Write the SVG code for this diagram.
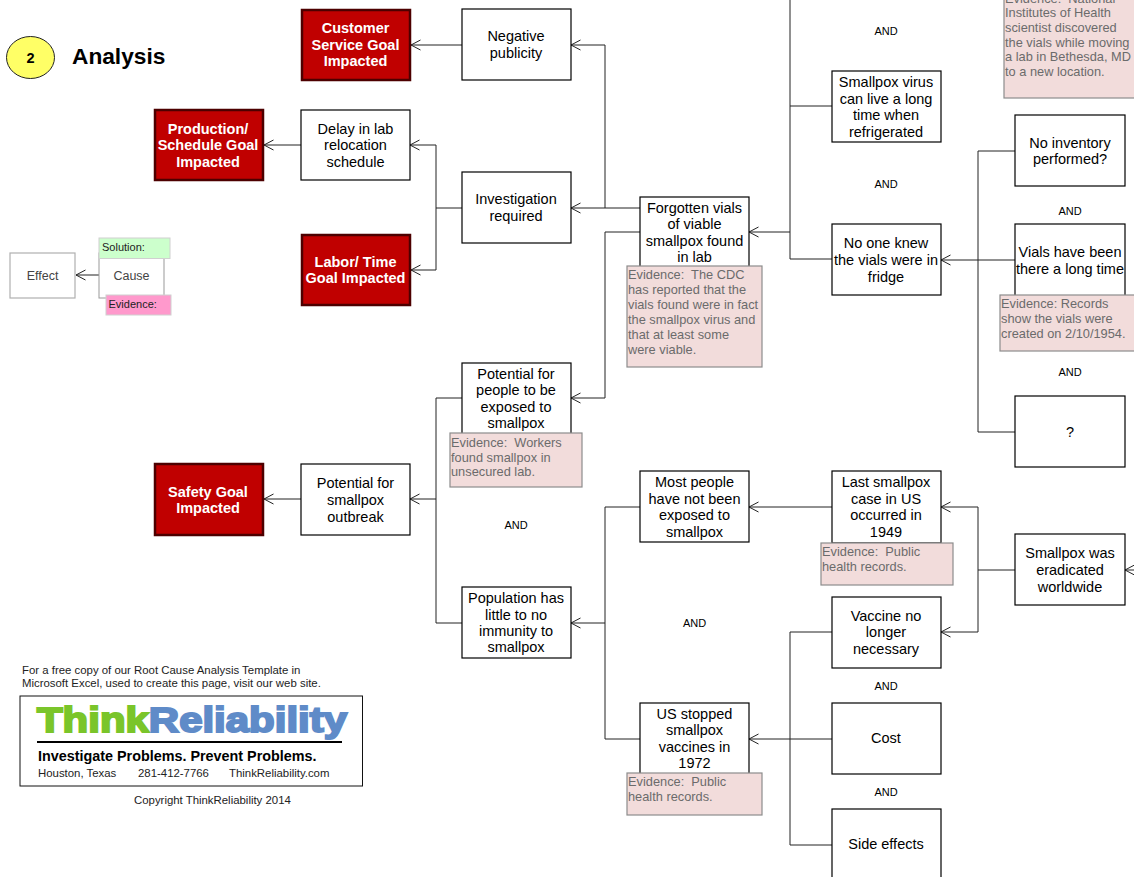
<svg xmlns="http://www.w3.org/2000/svg" width="1134" height="877" viewBox="0 0 1134 877">
<style>
text{font-family:"Liberation Sans",Arial,sans-serif;text-anchor:middle;fill:#000;white-space:pre}
.b{fill:#fff;stroke:#000;stroke-width:1.2}
.t{font-size:14.5px}
.r{fill:#c00000;stroke:#4d0000;stroke-width:2.5}
.rt{font-size:14.5px;font-weight:bold;fill:#fff}
.e{fill:#f2dcdb;stroke:#8c8c8c;stroke-width:1.2}
.et{font-size:12.8px;fill:#6b6b6b;text-anchor:start}
.and{font-size:11px}
.c{fill:none;stroke:#222;stroke-width:1}
.s{font-size:11.4px;fill:#222;text-anchor:start}
.k{font-size:11px;fill:#222;text-anchor:start}
.l{fill:none;stroke:#b0b0b0;stroke-width:1.2}
</style>
<defs>
<marker id="a" markerUnits="userSpaceOnUse" markerWidth="12" markerHeight="12" refX="11" refY="6" orient="auto" viewBox="0 0 12 12"><path d="M1.500 1 L11 6 L1.500 11" fill="none" stroke="#222" stroke-width="1"/></marker>
</defs>
<rect width="1134" height="877" fill="#fff"/>

<g id="connectors">
<path class="c" marker-end="url(#a)" d="M462 45H411"/>
<path class="c" marker-end="url(#a)" d="M301 145H264"/>
<path class="c" marker-end="url(#a)" d="M462 208H436V145H410"/>
<path class="c" marker-end="url(#a)" d="M436 208V270H411"/>
<path class="c" marker-end="url(#a)" d="M640 208H571"/>
<path class="c" marker-end="url(#a)" d="M605 208V45H571"/>
<path class="c" marker-end="url(#a)" d="M640 232H605V398H571"/>
<path class="c" marker-end="url(#a)" d="M790 232H749"/>
<path class="c" d="M790 0V259M790 106H832M790 259H832"/>
<path class="c" marker-end="url(#a)" d="M1015 260H941"/>
<path class="c" d="M1015 151H978V432H1015"/>
<path class="c" marker-end="url(#a)" d="M301 499H264"/>
<path class="c" marker-end="url(#a)" d="M462 398H436V499H410"/>
<path class="c" d="M462 623H436V499"/>
<path class="c" d="M640 507H605V739H640"/>
<path class="c" marker-end="url(#a)" d="M605 623H571"/>
<path class="c" marker-end="url(#a)" d="M832 507H749"/>
<path class="c" marker-end="url(#a)" d="M1015 570H978V507H941"/>
<path class="c" marker-end="url(#a)" d="M978 570V632H941"/>
<path class="c" marker-end="url(#a)" d="M832 739H749"/>
<path class="c" d="M832 632H790V845H832"/>
<path class="c" marker-end="url(#a)" d="M1140 570H1125"/>
<path class="c" marker-end="url(#a)" d="M100 275H76"/>
</g>

<g id="badge"><ellipse cx="30.500" cy="57.500" rx="24" ry="21" fill="#ffff66" stroke="#222" stroke-width="1"/><text x="30.500" y="63" style="font-size:14.500px;font-weight:bold">2</text></g>
<text id="title" x="72" y="64" style="font-size:22.700px;font-weight:bold;text-anchor:start">Analysis</text>

<g id="customer"><rect class="r" x="302" y="10" width="108" height="70"/><text class="rt" x="355.500" y="33">Customer</text><text class="rt" x="355.500" y="50">Service Goal</text><text class="rt" x="355.500" y="66">Impacted</text></g>
<g id="production"><rect class="r" x="155" y="110" width="108" height="70"/><text class="rt" x="208" y="134">Production/</text><text class="rt" x="208" y="150">Schedule Goal</text><text class="rt" x="208" y="167">Impacted</text></g>
<g id="labor"><rect class="r" x="302" y="235" width="108" height="70"/><text class="rt" x="355.500" y="267">Labor/ Time</text><text class="rt" x="355.500" y="283">Goal Impacted</text></g>
<g id="safety"><rect class="r" x="155" y="464" width="108" height="71"/><text class="rt" x="208" y="497">Safety Goal</text><text class="rt" x="208" y="513">Impacted</text></g>

<g id="negative"><rect class="b" x="462" y="9" width="109" height="71"/><text class="t" x="516" y="41">Negative</text><text class="t" x="516" y="58">publicity</text></g>
<g id="delay"><rect class="b" x="301" y="110" width="109" height="70"/><text class="t" x="355.500" y="134">Delay in lab</text><text class="t" x="355.500" y="150">relocation</text><text class="t" x="355.500" y="167">schedule</text></g>
<g id="investigation"><rect class="b" x="462" y="172" width="109" height="71"/><text class="t" x="516" y="204">Investigation</text><text class="t" x="516" y="221">required</text></g>

<g id="forgotten"><rect class="b" x="640" y="197" width="109" height="72"/><text class="t" x="694.500" y="213">Forgotten vials</text><text class="t" x="694.500" y="229">of viable</text><text class="t" x="694.500" y="246">smallpox found</text><text class="t" x="694.500" y="262">in lab</text></g>
<g id="forgotten-evidence"><rect class="e" x="627" y="266" width="135" height="101"/><text class="et" x="628" y="279">Evidence:  The CDC</text><text class="et" x="628" y="294">has reported that the</text><text class="et" x="628" y="309">vials found were in fact</text><text class="et" x="628" y="324">the smallpox virus and</text><text class="et" x="628" y="339">that at least some</text><text class="et" x="628" y="354">were viable.</text></g>

<g id="virus"><rect class="b" x="832" y="71" width="109" height="71"/><text class="t" x="886" y="87">Smallpox virus</text><text class="t" x="886" y="104">can live a long</text><text class="t" x="886" y="120">time when</text><text class="t" x="886" y="137">refrigerated</text></g>
<g id="noone"><rect class="b" x="832" y="224" width="109" height="71"/><text class="t" x="886" y="248">No one knew</text><text class="t" x="886" y="265">the vials were in</text><text class="t" x="886" y="282">fridge</text></g>
<g id="inventory"><rect class="b" x="1015" y="115" width="110" height="71"/><text class="t" x="1070" y="148">No inventory</text><text class="t" x="1070" y="164">performed?</text></g>
<g id="vials"><rect class="b" x="1015" y="224" width="110" height="72"/><text class="t" x="1070" y="257">Vials have been</text><text class="t" x="1070" y="274">there a long time</text></g>
<g id="vials-evidence"><rect class="e" x="1000" y="295" width="136" height="56"/><text class="et" x="1001" y="308">Evidence: Records</text><text class="et" x="1001" y="323">show the vials were</text><text class="et" x="1001" y="338">created on 2/10/1954.</text></g>
<g id="question"><rect class="b" x="1015" y="396" width="110" height="71"/><text class="t" x="1070" y="437">?</text></g>
<g id="top-evidence"><rect class="e" x="1004" y="-10" width="132" height="108"/><text class="et" x="1005" y="3">Evidence:  National</text><text class="et" x="1005" y="17">Institutes of Health</text><text class="et" x="1005" y="32">scientist discovered</text><text class="et" x="1005" y="47">the vials while moving</text><text class="et" x="1005" y="61">a lab in Bethesda, MD</text><text class="et" x="1005" y="76">to a new location.</text></g>

<g id="people"><rect class="b" x="462" y="363" width="109" height="71"/><text class="t" x="516" y="379">Potential for</text><text class="t" x="516" y="395">people to be</text><text class="t" x="516" y="412">exposed to</text><text class="t" x="516" y="428">smallpox</text></g>
<g id="people-evidence"><rect class="e" x="450" y="433" width="132" height="54"/><text class="et" x="451" y="447">Evidence:  Workers</text><text class="et" x="451" y="462">found smallpox in</text><text class="et" x="451" y="476">unsecured lab.</text></g>
<g id="outbreak"><rect class="b" x="301" y="464" width="109" height="71"/><text class="t" x="355.500" y="488">Potential for</text><text class="t" x="355.500" y="505">smallpox</text><text class="t" x="355.500" y="522">outbreak</text></g>
<g id="most"><rect class="b" x="640" y="471" width="109" height="71"/><text class="t" x="694.500" y="487">Most people</text><text class="t" x="694.500" y="504">have not been</text><text class="t" x="694.500" y="520">exposed to</text><text class="t" x="694.500" y="537">smallpox</text></g>
<g id="last"><rect class="b" x="832" y="471" width="109" height="72"/><text class="t" x="886" y="487">Last smallpox</text><text class="t" x="886" y="504">case in US</text><text class="t" x="886" y="520">occurred in</text><text class="t" x="886" y="537">1949</text></g>
<g id="last-evidence"><rect class="e" x="821" y="543" width="132" height="42"/><text class="et" x="822" y="556">Evidence:  Public</text><text class="et" x="822" y="571">health records.</text></g>
<g id="eradicated"><rect class="b" x="1015" y="534" width="110" height="71"/><text class="t" x="1070" y="558">Smallpox was</text><text class="t" x="1070" y="575">eradicated</text><text class="t" x="1070" y="592">worldwide</text></g>
<g id="vaccine"><rect class="b" x="832" y="597" width="109" height="71"/><text class="t" x="886" y="621">Vaccine no</text><text class="t" x="886" y="637">longer</text><text class="t" x="886" y="654">necessary</text></g>
<g id="population"><rect class="b" x="462" y="587" width="109" height="71"/><text class="t" x="516" y="603">Population has</text><text class="t" x="516" y="620">little to no</text><text class="t" x="516" y="636">immunity to</text><text class="t" x="516" y="652">smallpox</text></g>
<g id="stopped"><rect class="b" x="640" y="703" width="109" height="71"/><text class="t" x="694.500" y="719">US stopped</text><text class="t" x="694.500" y="735">smallpox</text><text class="t" x="694.500" y="752">vaccines in</text><text class="t" x="694.500" y="768">1972</text></g>
<g id="stopped-evidence"><rect class="e" x="627" y="773" width="135" height="42"/><text class="et" x="628" y="786">Evidence:  Public</text><text class="et" x="628" y="801">health records.</text></g>
<g id="cost"><rect class="b" x="832" y="703" width="109" height="71"/><text class="t" x="886" y="743">Cost</text></g>
<g id="side"><rect class="b" x="832" y="809" width="109" height="71"/><text class="t" x="886" y="849">Side effects</text></g>

<g id="and-labels">
<text class="and" x="886" y="35">AND</text><text class="and" x="886" y="188">AND</text><text class="and" x="1070" y="215">AND</text><text class="and" x="1070" y="376">AND</text><text class="and" x="516" y="529">AND</text><text class="and" x="694.500" y="627">AND</text><text class="and" x="886" y="690">AND</text><text class="and" x="886" y="796">AND</text>
</g>

<g id="legend-effect"><rect class="l" x="10" y="253" width="65" height="45"/><text x="42.500" y="280" style="font-size:12.500px;fill:#444">Effect</text></g>
<g id="legend-cause"><rect x="99" y="253" width="65" height="45" fill="#fff" stroke="#999" stroke-width="1"/><text x="131.500" y="280" style="font-size:12.500px;fill:#444">Cause</text></g>
<g id="legend-solution"><rect x="99" y="238" width="71" height="20.500" fill="#ccffcc" stroke="#d0d0d0" stroke-width="1"/><text class="k" x="102" y="251">Solution:</text></g>
<g id="legend-evidence"><rect x="106" y="295" width="65" height="20" fill="#ff99cc" stroke="#d0d0d0" stroke-width="1"/><text class="k" x="108.500" y="308">Evidence:</text></g>

<g id="promo">
<text class="s" x="22" y="674">For a free copy of our Root Cause Analysis Template in</text>
<text class="s" x="22" y="687">Microsoft Excel, used to create this page, visit our web site.</text>
<rect x="20" y="696" width="342.500" height="90" fill="#fff" stroke="#111" stroke-width="1"/>
<text x="37" y="732" textLength="310" lengthAdjust="spacingAndGlyphs" style="font-size:35px;font-weight:bold;text-anchor:start;stroke-width:2;paint-order:stroke"><tspan fill="#7ac52a" stroke="#7ac52a">Think</tspan><tspan fill="#5f8bc8" stroke="#5f8bc8">Reliability</tspan></text>
<rect x="37" y="741" width="305" height="2" fill="#000"/>
<text x="38" y="761" style="font-size:14.360px;font-weight:bold;text-anchor:start">Investigate Problems. Prevent Problems.</text>
<text class="s" x="38" y="777">Houston, Texas</text>
<text class="s" x="138" y="777">281-412-7766</text>
<text class="s" x="229" y="777">ThinkReliability.com</text>
<text class="s" x="134" y="804">Copyright ThinkReliability 2014</text>
</g>
</svg>
